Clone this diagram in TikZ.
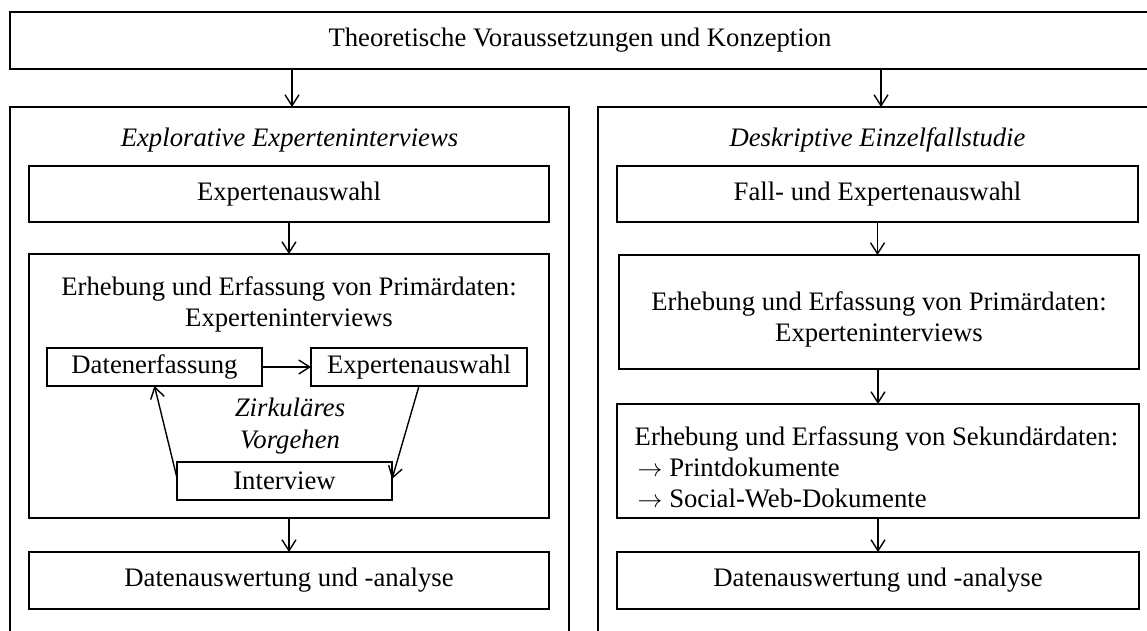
\documentclass[tikz,border=0pt]{standalone}
\usepackage{fontspec}
\setmainfont{Liberation Serif}
\usetikzlibrary{arrows.meta}
\begin{document}
\begin{tikzpicture}[x=1pt, y=-1pt, line width=1.4pt,
  font=\fontsize{26.7}{31}\selectfont,
  box/.style={draw, rectangle, inner sep=0pt, outer sep=0pt, align=center},
  lbl/.style={inner sep=0pt, align=center},
  arr/.style={-{Straight Barb[length=11pt,width=14pt]}}]

\useasboundingbox (0,0) rectangle (1147,630);
\clip (0,0) rectangle (1147,630);

% top frame
\node[box, minimum width=1140pt, minimum height=57pt] (top) at (580,40.5)
  {Theoretische Voraussetzungen und Konzeption};

% the two column frames (open towards the bottom)
\node[box, minimum width=559pt, minimum height=553pt] (lcol) at (289.5,383.5) {};
\node[box, minimum width=559pt, minimum height=553pt] (rcol) at (877.5,383.5) {};
\node[lbl, font=\fontsize{26.7}{31}\selectfont\itshape] (ltitle) at (289.5,140)
  {Explorative Experteninterviews};
\node[lbl, font=\fontsize{26.7}{31}\selectfont\itshape] (rtitle) at (877.5,140)
  {Deskriptive Einzelfallstudie};

% left column
\node[box, minimum width=520pt, minimum height=56pt] (lsel) at (289,194) {Expertenauswahl};
\node[box, minimum width=520pt, minimum height=264pt] (lprim) at (289,386) {};
\node[lbl] (lprimtxt) at (289,304)
  {Erhebung und Erfassung von Primärdaten:\\Experteninterviews};
\node[box, minimum width=215pt, minimum height=38pt] (dat) at (154.5,367) {Datenerfassung};
\node[box, minimum width=216pt, minimum height=38pt] (eaw) at (419,367) {Expertenauswahl};
\node[box, minimum width=215pt, minimum height=38pt] (intv) at (284.5,481) {Interview};
\node[lbl, font=\fontsize{26.7}{31.5}\selectfont\itshape] (zirk) at (290,426)
  {Zirkuläres\\Vorgehen};
\node[box, minimum width=520pt, minimum height=57pt] (lana) at (289,580.5)
  {Datenauswertung und -analyse};

% right column
\node[box, minimum width=521pt, minimum height=56pt] (rsel) at (877.5,194)
  {Fall- und Expertenauswahl};
\node[box, minimum width=520pt, minimum height=114pt] (rprim) at (879,312) {};
\node[lbl] (rprimtxt) at (879,319)
  {Erhebung und Erfassung von Primärdaten:\\Experteninterviews};
\node[box, minimum width=522pt, minimum height=114pt] (rsek) at (878,461) {};
\node[lbl, align=left, anchor=west] (rsektxt) at (634,467)
  {Erhebung und Erfassung von Sekundärdaten:\\
   \hspace{3pt}$\rightarrow$ Printdokumente\\
   \hspace{3pt}$\rightarrow$ Social-Web-Dokumente};
\node[box, minimum width=522pt, minimum height=57pt] (rana) at (878,580.5)
  {Datenauswertung und -analyse};

% connectors
\draw[arr] ([xshift=2.5pt]lcol.north |- top.south) -- ([xshift=2.5pt]lcol.north);
\draw[arr] ([xshift=3.5pt]rcol.north |- top.south) -- ([xshift=3.5pt]rcol.north);
\draw[arr] (lsel.south) -- (lsel.south |- lprim.north);
\draw[arr] (lprim.south) -- (lprim.south |- lana.north);
\draw[arr] (rsel.south) -- (rsel.south |- rprim.north);
\draw[arr] (rsek.north |- rprim.south) -- (rsek.north);
\draw[arr] (rsek.south) -- (rana.north);
\draw[arr] (dat.east) -- (eaw.west);
\draw[arr] (eaw.south) -- ([yshift=2pt]intv.east);
\draw[arr] ([yshift=3pt]intv.west) -- (dat.south);

\end{tikzpicture}
\end{document}
